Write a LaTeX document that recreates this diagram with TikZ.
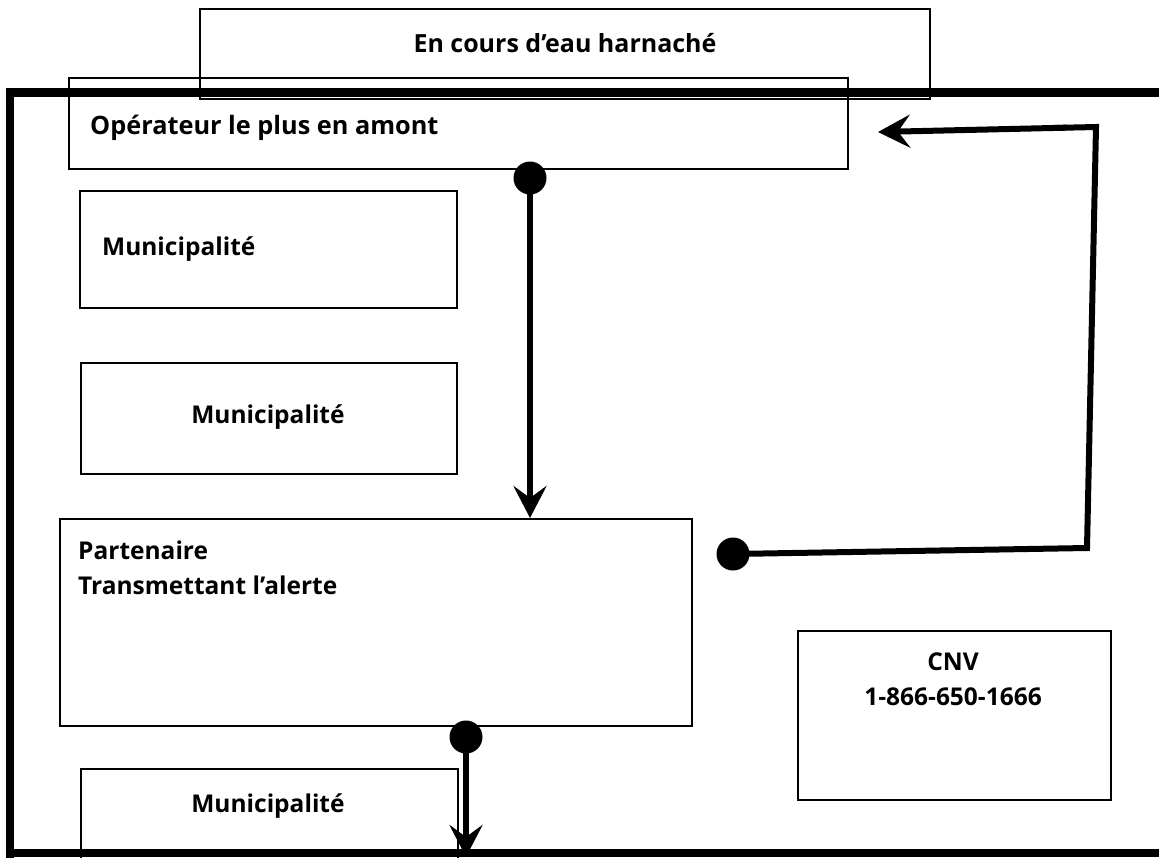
\documentclass[tikz,border=0pt]{standalone}
\usepackage{fontspec}
\setmainfont{Open Sans}
\usepackage{tikz}
\usetikzlibrary{arrows.meta,positioning,calc}

\begin{document}
\begin{tikzpicture}[
  x=1pt,y=-1pt,
  cadre/.style={draw=black,line width=1.8pt,inner sep=0pt,anchor=north west},
  txt/.style={font=\bfseries\fontsize{24.5}{29}\selectfont,inner sep=0pt},
  pastille/.style={circle,fill=black,minimum size=33pt,inner sep=0pt},
  fleche/.style={-{Stealth[length=32pt,width=33pt,inset=12pt]},line width=6pt,draw=black},
  trait/.style={line width=6pt,draw=black,line join=miter}
]
\useasboundingbox (0,0) rectangle (1159,857);
% grand cadre (coupe a droite)
\draw[line width=8.5pt] (10,860) -- (10,92.5) -- (1170,92.5);
\draw[line width=8.5pt] (6,853) -- (1170,853);
% boites
\node[cadre,minimum width=730pt,minimum height=90pt] (cours) at (199,8) {};
\node[cadre,minimum width=779pt,minimum height=91pt] (opamont) at (68,77) {};
\node[cadre,minimum width=377pt,minimum height=117pt] (muni1) at (79,190) {};
\node[cadre,minimum width=376pt,minimum height=111pt] (muni2) at (80,362) {};
\node[cadre,minimum width=632pt,minimum height=207pt] (partenaire) at (59,518) {};
\node[cadre,minimum width=313pt,minimum height=169pt] (cnv) at (797,630) {};
\node[cadre,minimum width=377pt,minimum height=100pt] (muni3) at (80,768) {};
% textes
\node[txt,font=\bfseries\fontsize{25}{30}\selectfont] (t-cours) at (565,43) {En cours d’eau harnaché};
\node[txt,anchor=west,font=\bfseries\fontsize{25.3}{30}\selectfont] (t-opamont) at (90,128) {Opérateur le plus en amont};
\node[txt,anchor=west] (t-muni1) at (102,249) {Municipalité};
\node[txt] (t-muni2) at (268,417) {Municipalité};
\node[txt,anchor=west] (t-part1) at (78,550) {Partenaire};
\node[txt,anchor=west] (t-part2) at (78,585) {Transmettant l’alerte};
\node[txt] (t-cnv1) at (953,662) {CNV};
\node[txt] (t-cnv2) at (953,697) {1-866-650-1666};
\node[txt] (t-muni3) at (268,806) {Municipalité};
% pastilles et fleches
\node[pastille] (d1) at (530,178) {};
\node[pastille] (d2) at (733,554) {};
\node[pastille] (d3) at (466,737) {};
\coordinate (coin1) at (1087,548);
\coordinate (coin2) at (1096,127);
\coordinate (retour) at (878,132);
\coordinate (bas) at (466,857);
\draw[fleche] (d1.center) -- (d1.center |- partenaire.north);
\draw[trait] (d2.center) -- (coin1) -- (coin2) -- ($(coin2)+(-40,0.9)$);
\draw[fleche] ($(coin2)+(-30,0.7)$) -- (retour);
\draw[fleche] (d3.center) -- (bas);
\end{tikzpicture}
\end{document}
